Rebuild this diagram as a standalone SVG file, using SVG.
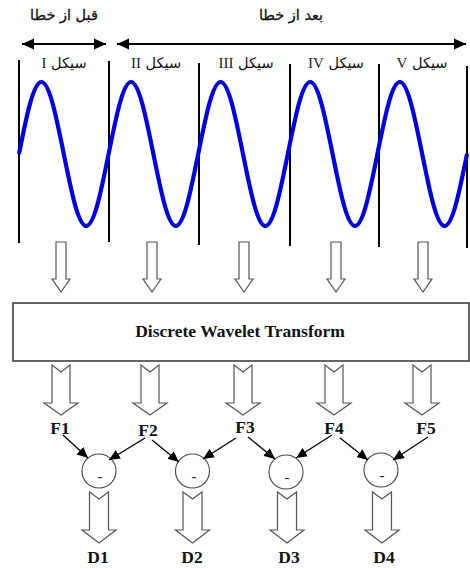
<svg xmlns="http://www.w3.org/2000/svg" width="470" height="569" viewBox="0 0 470 569">
<defs>
<style>
.fa{font-family:"DejaVu Sans",sans-serif;font-size:14.5px;fill:#111}
.rn{font-family:"Liberation Serif",serif;font-size:15px;fill:#222}
.lb{font-family:"Liberation Serif",serif;font-weight:bold;font-size:17.5px;fill:#111}
.hol{fill:#fff;stroke:#555;stroke-width:1.2;stroke-linejoin:miter}
.cyc{stroke:#000;stroke-width:2}
.circ{fill:#fff;stroke:#444;stroke-width:1.1}
.con{stroke:#000;stroke-width:1.3;fill:none;marker-end:url(#ah)}
.span{stroke:#000;stroke-width:2;fill:none;marker-start:url(#bh);marker-end:url(#bh)}
</style>
<marker id="ah" markerUnits="userSpaceOnUse" markerWidth="12" markerHeight="10" refX="11" refY="5" orient="auto">
<path d="M0,0 L11,5 L0,10 Z" fill="#000"/>
</marker>
<marker id="bh" markerUnits="userSpaceOnUse" markerWidth="13" markerHeight="12" refX="12" refY="6" orient="auto-start-reverse">
<path d="M0,0.5 L12,6 L0,11.5 Z" fill="#000"/>
</marker>
</defs>
<rect width="470" height="569" fill="#fff"/>

<g id="labels-top">
<text class="fa" x="64" y="20" text-anchor="middle" direction="rtl" stroke="#111" stroke-width="0.3">قبل از خطا</text>
<text class="fa" x="291" y="20" text-anchor="middle" direction="rtl" stroke="#111" stroke-width="0.3">بعد از خطا</text>
</g>

<g id="spans">
<line class="span" x1="22" y1="44" x2="106" y2="44"/>
<line class="span" x1="117" y1="44" x2="466" y2="44"/>
</g>

<g id="cycle-lines">
<line class="cyc" x1="19" y1="60" x2="19" y2="243" stroke-width="2.5"/>
<line class="cyc" x1="109" y1="61" x2="109" y2="242" stroke-width="1.7"/>
<line class="cyc" x1="199" y1="63" x2="199" y2="245" stroke-width="1.7"/>
<line class="cyc" x1="290" y1="64" x2="290" y2="246" stroke-width="1.7"/>
<line class="cyc" x1="379" y1="64" x2="379" y2="247" stroke-width="1.7"/>
<line class="cyc" x1="467" y1="66" x2="467" y2="248" stroke-width="2.5"/>
</g>

<g id="cycle-labels">
<text class="fa" x="64" y="68" text-anchor="middle" direction="rtl">سیکل <tspan class="rn">I</tspan></text>
<text class="fa" x="156" y="68" text-anchor="middle" direction="rtl">سیکل <tspan class="rn">II</tspan></text>
<text class="fa" x="246" y="68" text-anchor="middle" direction="rtl">سیکل <tspan class="rn">III</tspan></text>
<text class="fa" x="336" y="68" text-anchor="middle" direction="rtl">سیکل <tspan class="rn">IV</tspan></text>
<text class="fa" x="422" y="68" text-anchor="middle" direction="rtl">سیکل <tspan class="rn">V</tspan></text>
</g>

<g id="wave">
<path d="M19,154 C26.306,117.12 33.294,82 41.4,82
s15.094,35.88 22.4,72 s14.294,72 22.4,72 s15.094,-35.88 22.4,-72 s14.294,-72 22.4,-72
s15.094,35.88 22.4,72 s14.294,72 22.4,72 s15.094,-35.88 22.4,-72 s14.294,-72 22.4,-72
s15.094,35.88 22.4,72 s14.294,72 22.4,72 s15.094,-35.88 22.4,-72 s14.294,-72 22.4,-72
s15.094,35.88 22.4,72 s14.294,72 22.4,72 s15.094,-35.88 22.4,-72 s14.294,-72 22.4,-72
s15.094,35.88 22.4,72 s14.294,72 22.4,72 s15.094,-35.88 22.4,-72" fill="none" stroke="#0000e8" stroke-width="4.2" stroke-linejoin="round"/>
</g>

<g id="in-arrows">
<polygon class="hol" points="56,242 66,242 66,279 70,279 61,292 52,279 56,279"/>
<polygon class="hol" points="147,242 157,242 157,279 161,279 152,292 143,279 147,279"/>
<polygon class="hol" points="239,242 249,242 249,279 253,279 244,292 235,279 239,279"/>
<polygon class="hol" points="331,242 341,242 341,279 345,279 336,292 327,279 331,279"/>
<polygon class="hol" points="418,242 428,242 428,279 432,279 423,292 414,279 418,279"/>
</g>

<g id="dwt">
<rect x="13" y="303" width="456" height="58" fill="#fff" stroke="#333" stroke-width="1.5"/>
<text class="lb" x="240" y="337" text-anchor="middle">Discrete Wavelet Transform</text>
</g>

<g id="f-arrows">
<polygon class="hol" points="52,365 61,372 70,365 70,403 78,403 61,415 44,403 52,403"/>
<polygon class="hol" points="141,365 150,372 159,365 159,403 167,403 150,415 133,403 141,403"/>
<polygon class="hol" points="234,365 243,372 252,365 252,403 260,403 243,415 226,403 234,403"/>
<polygon class="hol" points="325,365 334,372 343,365 343,403 351,403 334,415 317,403 325,403"/>
<polygon class="hol" points="413,365 422,372 431,365 431,403 439,403 422,415 405,403 413,403"/>
</g>

<g id="F1"><text class="lb" x="60" y="434" text-anchor="middle">F1</text></g>
<g id="F2"><text class="lb" x="148" y="436" text-anchor="middle">F2</text></g>
<g id="F3"><text class="lb" x="245" y="433" text-anchor="middle">F3</text></g>
<g id="F4"><text class="lb" x="334" y="434" text-anchor="middle">F4</text></g>
<g id="F5"><text class="lb" x="426" y="434" text-anchor="middle">F5</text></g>

<g id="sub1"><circle class="circ" cx="99" cy="471" r="17"/><text class="rn" x="100" y="481" text-anchor="middle" font-size="12">-</text></g>
<g id="sub2"><circle class="circ" cx="192.5" cy="471" r="17"/><text class="rn" x="194" y="481" text-anchor="middle" font-size="12">-</text></g>
<g id="sub3"><circle class="circ" cx="286" cy="472" r="17"/><text class="rn" x="287" y="482" text-anchor="middle" font-size="12">-</text></g>
<g id="sub4"><circle class="circ" cx="381" cy="470" r="17"/><text class="rn" x="382" y="480" text-anchor="middle" font-size="12">-</text></g>

<g id="connectors">
<line class="con" x1="63" y1="435" x2="88" y2="458"/>
<line class="con" x1="145" y1="438" x2="109" y2="460"/>
<line class="con" x1="152" y1="440" x2="179" y2="462"/>
<line class="con" x1="236" y1="438" x2="203" y2="459"/>
<line class="con" x1="248" y1="437" x2="275" y2="459"/>
<line class="con" x1="332" y1="435" x2="296" y2="458"/>
<line class="con" x1="340" y1="438" x2="368" y2="460"/>
<line class="con" x1="428" y1="437" x2="393" y2="460"/>
</g>

<g id="d-arrows">
<polygon class="hol" points="89.5,492 99,499 108.5,492 108.5,530 116,530 99,543 82,530 89.5,530"/>
<polygon class="hol" points="183,492 192.5,499 202,492 202,530 209.5,530 192.5,543 175.5,530 183,530"/>
<polygon class="hol" points="277.5,492 287,499 296.5,492 296.5,530 304,530 287,543 270,530 277.5,530"/>
<polygon class="hol" points="372.5,492 382,499 391.5,492 391.5,530 399,530 382,543 365,530 372.5,530"/>
</g>

<g id="D1"><text class="lb" x="98" y="563" text-anchor="middle">D1</text></g>
<g id="D2"><text class="lb" x="192" y="563" text-anchor="middle">D2</text></g>
<g id="D3"><text class="lb" x="289" y="563" text-anchor="middle">D3</text></g>
<g id="D4"><text class="lb" x="384" y="563" text-anchor="middle">D4</text></g>
</svg>
